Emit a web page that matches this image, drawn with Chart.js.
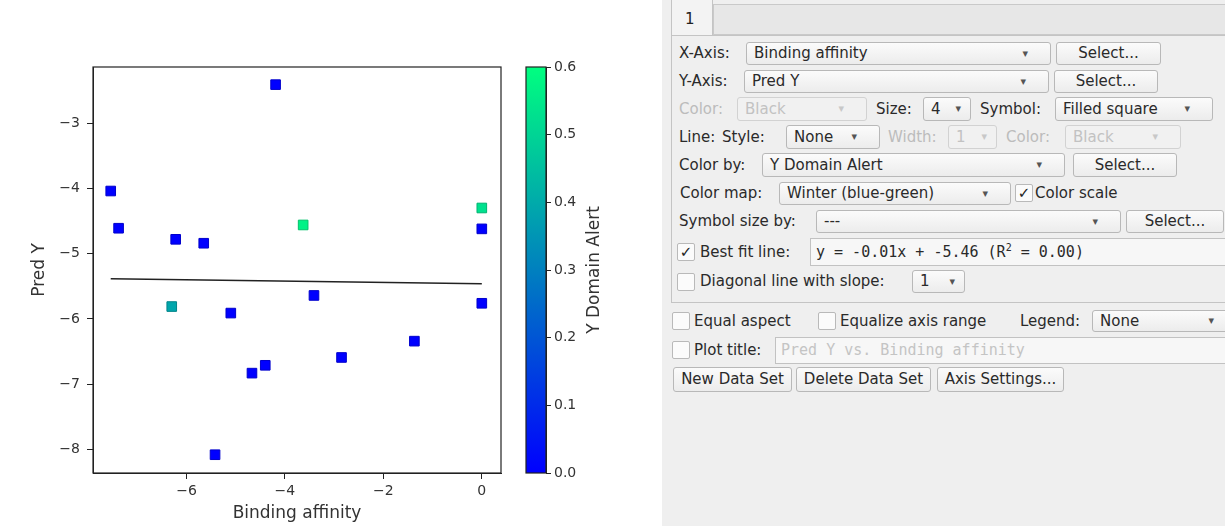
<!DOCTYPE html>
<html lang="en">
<head>
    <meta charset="UTF-8">
    <title>Pred Y vs. Binding affinity</title>
    <script src="https://cdn.jsdelivr.net/npm/chart.js"></script>
    <style>
        body {
            margin: 0;
            width: 1225px;
            height: 526px;
            position: relative;
            overflow: hidden;
            background: #fff;
            font-family: "DejaVu Sans", sans-serif;
        }
        #plot { position: absolute; left: 0; top: 0; }
        #cbar { position: absolute; left: 515px; top: 0; }

        .panel { position: absolute; left: 662px; top: 0; width: 563px; height: 526px; background: #efefef; }
        .tabbar { position: absolute; left: 713px; top: 4px; width: 520px; height: 31px; background: #e7e7e7; border: 1px solid #c9c9c9; box-sizing: border-box; }
        .tab { position: absolute; left: 671px; top: -2px; width: 42px; height: 38px; background: #f3f3f3; border: 1px solid #c4c4c4; border-bottom: none; box-sizing: border-box; font-size: 15px; line-height: 40px; padding-left: 13px; color: #222; }
        .page { position: absolute; left: 671px; top: 35px; width: 570px; height: 268px; border: 1px solid #c4c4c4; box-sizing: border-box; }

        .lbl, .combo, .btn, .chk, .field { position: absolute; box-sizing: border-box; white-space: nowrap; }
        .lbl { font-size: 15px; color: #2a2a2a; }
        .off { color: #bcbcbc !important; }
        .combo, .btn {
            border: 1px solid #b8b8b8;
            border-radius: 3px;
            background: linear-gradient(#fbfbfb, #ececec);
            font-size: 15px;
            color: #2a2a2a;
            padding-left: 7px;
        }
        .combo::after {
            content: "\25BE";
            position: absolute;
            right: 22px;
            top: 0;
            font-size: 11px;
            color: #555;
        }
        .combo.narrow::after { right: 9px; }
        .combo.dis { border-color: #d2d2d2; background: #f1f1f1; color: #c2c2c2; }
        .combo.dis::after { color: #c8c8c8; }
        .btn { text-align: center; padding-left: 0; }
        .chk { width: 18px; height: 18px; border: 1px solid #b9b9b9; border-radius: 2px; background: #fbfbfb; font-size: 15px; line-height: 16px; text-align: center; color: #222; }
        .field { border: 1px solid #c2c2c2; background: #f7f7f7; font-family: "DejaVu Sans Mono", monospace; font-size: 15px; color: #2a2a2a; padding-left: 5px; }
        .field sup { font-size: 10px; line-height: 0; }
    </style>
</head>
<body>
    <canvas id="plot" width="515" height="526"></canvas>
    <canvas id="cbar" width="145" height="526"></canvas>

    <div class="panel"></div>
    <div class="tabbar"></div>
    <div class="tab">1</div>
    <div class="page"></div>

    <!-- axis selection -->
    <div class="lbl" style="left:679px;top:42px;line-height:23px">X-Axis:</div>
    <div class="combo" style="left:746px;top:42px;width:305px;height:23px;line-height:21px">Binding affinity</div>
    <div class="btn" style="left:1056px;top:42px;width:105px;height:23px;line-height:21px">Select...</div>

    <div class="lbl" style="left:679px;top:70px;line-height:23px">Y-Axis:</div>
    <div class="combo" style="left:744px;top:70px;width:305px;height:23px;line-height:21px">Pred Y</div>
    <div class="btn" style="left:1054px;top:70px;width:104px;height:23px;line-height:21px">Select...</div>

    <!-- marker -->
    <div class="lbl off" style="left:679px;top:97px;line-height:24px">Color:</div>
    <div class="combo dis" style="left:737px;top:97px;width:130px;height:24px;line-height:22px">Black</div>
    <div class="lbl" style="left:876px;top:97px;line-height:24px">Size:</div>
    <div class="combo narrow" style="left:923px;top:97px;width:48px;height:24px;line-height:22px">4</div>
    <div class="lbl" style="left:980px;top:97px;line-height:24px">Symbol:</div>
    <div class="combo" style="left:1055px;top:97px;width:158px;height:24px;line-height:22px">Filled square</div>

    <!-- line -->
    <div class="lbl" style="left:679px;top:125px;line-height:24px">Line:</div>
    <div class="lbl" style="left:722px;top:125px;line-height:24px">Style:</div>
    <div class="combo" style="left:786px;top:125px;width:94px;height:24px;line-height:22px">None</div>
    <div class="lbl off" style="left:888px;top:125px;line-height:24px">Width:</div>
    <div class="combo dis narrow" style="left:948px;top:125px;width:49px;height:24px;line-height:22px">1</div>
    <div class="lbl off" style="left:1006px;top:125px;line-height:24px">Color:</div>
    <div class="combo dis" style="left:1065px;top:125px;width:116px;height:24px;line-height:22px">Black</div>

    <!-- colour mapping -->
    <div class="lbl" style="left:679px;top:153px;line-height:24px">Color by:</div>
    <div class="combo" style="left:762px;top:153px;width:303px;height:24px;line-height:22px">Y Domain Alert</div>
    <div class="btn" style="left:1073px;top:153px;width:104px;height:24px;line-height:22px">Select...</div>

    <div class="lbl" style="left:680px;top:182px;line-height:23px">Color map:</div>
    <div class="combo" style="left:779px;top:182px;width:232px;height:23px;line-height:21px">Winter (blue-green)</div>
    <div class="chk" style="left:1015px;top:184px">&#10003;</div>
    <div class="lbl" style="left:1035px;top:182px;line-height:23px">Color scale</div>

    <div class="lbl" style="left:679px;top:210px;line-height:23px">Symbol size by:</div>
    <div class="combo" style="left:816px;top:210px;width:305px;height:23px;line-height:21px">---</div>
    <div class="btn" style="left:1126px;top:210px;width:98px;height:23px;line-height:21px">Select...</div>

    <!-- reference lines -->
    <div class="chk" style="left:677px;top:243px">&#10003;</div>
    <div class="lbl" style="left:700px;top:238px;line-height:28px">Best fit line:</div>
    <div class="field" style="left:810px;top:238px;width:420px;height:28px;line-height:26px">y = -0.01x + -5.46 (R<sup>2</sup> = 0.00)</div>

    <div class="chk" style="left:677px;top:273px"></div>
    <div class="lbl" style="left:700px;top:270px;line-height:23px">Diagonal line with slope:</div>
    <div class="combo narrow" style="left:912px;top:270px;width:53px;height:23px;line-height:21px">1</div>

    <!-- plot options -->
    <div class="chk" style="left:672px;top:312px"></div>
    <div class="lbl" style="left:694px;top:310px;line-height:22px">Equal aspect</div>
    <div class="chk" style="left:818px;top:312px"></div>
    <div class="lbl" style="left:840px;top:310px;line-height:22px">Equalize axis range</div>
    <div class="lbl" style="left:1020px;top:310px;line-height:22px">Legend:</div>
    <div class="combo" style="left:1092px;top:310px;width:145px;height:22px;line-height:20px">None</div>

    <div class="chk" style="left:672px;top:341px"></div>
    <div class="lbl" style="left:694px;top:337px;line-height:27px">Plot title:</div>
    <div class="field" style="left:775px;top:337px;width:460px;height:27px;line-height:25px;color:#c4c4c4">Pred Y vs. Binding affinity</div>

    <div class="btn" style="left:673px;top:367px;width:119px;height:25px;line-height:23px">New Data Set</div>
    <div class="btn" style="left:796px;top:367px;width:135px;height:25px;line-height:23px">Delete Data Set</div>
    <div class="btn" style="left:937px;top:367px;width:127px;height:25px;line-height:23px">Axis Settings...</div>

    <script>
        // Data set 1
        const bindingAffinity = [-4.19, -7.54, -7.38, -6.22, -5.65, -3.63, 0.0, 0.0, -6.30, -5.10, -4.67, -4.40, -5.42, -3.41, -2.85, -1.37, 0.0];
        const predY = [-2.41, -4.04, -4.61, -4.78, -4.84, -4.56, -4.30, -4.62, -5.81, -5.91, -6.83, -6.71, -8.08, -5.64, -6.59, -6.34, -5.76];
        const yDomainAlert = [0, 0, 0, 0, 0, 0.57, 0.53, 0, 0.39, 0, 0, 0, 0, 0, 0, 0, 0];

        // Best fit line as reported in the panel
        const fitSlope = -0.01;
        const fitIntercept = -5.46;

        const xTicks = [-6, -4, -2, 0];
        const yTicks = [-8, -7, -6, -5, -4, -3];
        const alertTicks = [0, 0.1, 0.2, 0.3, 0.4, 0.5, 0.6];
        const alertMax = 0.6;

        Chart.defaults.font.family = '"DejaVu Sans", sans-serif';
        Chart.defaults.color = '#333';

        // matplotlib "winter": blue -> spring green
        function winter(v, shade = 1) {
            const t = Math.min(Math.max(v / alertMax, 0), 1);
            const g = Math.round(255 * t * shade);
            const b = Math.round(255 * (1 - 0.5 * t) * shade);
            return `rgb(0,${g},${b})`;
        }

        const minus = v => String(v).replace('-', '\u2212');

        const frame = {
            id: 'frame',
            afterDraw(chart) {
                const { ctx, chartArea: a } = chart;
                ctx.save();
                ctx.strokeStyle = '#222';
                ctx.lineWidth = 1.2;
                ctx.strokeRect(a.left, a.top, a.right - a.left, a.bottom - a.top);
                ctx.restore();
            }
        };

        const fitX = [Math.min(...bindingAffinity), Math.max(...bindingAffinity)];

        new Chart(document.getElementById('plot'), {
            type: 'scatter',
            data: {
                datasets: [{
                    data: bindingAffinity.map((x, i) => ({ x: x, y: predY[i] })),
                    pointStyle: 'rect',
                    pointRadius: 6.8,
                    borderWidth: 1,
                    backgroundColor: yDomainAlert.map(v => winter(v)),
                    borderColor: yDomainAlert.map(v => winter(v, 0.8)),
                    order: 0
                }, {
                    type: 'line',
                    data: fitX.map(x => ({ x: x, y: fitSlope * x + fitIntercept })),
                    borderColor: '#222',
                    borderWidth: 1.5,
                    pointRadius: 0,
                    order: 1
                }]
            },
            options: {
                responsive: false,
                animation: false,
                layout: { padding: { top: 67, right: 14, left: 0, bottom: 0 } },
                plugins: { legend: { display: false }, tooltip: { enabled: false } },
                scales: {
                    x: {
                        type: 'linear',
                        min: -7.9,
                        max: 0.39,
                        afterBuildTicks: s => { s.ticks = xTicks.map(v => ({ value: v })); },
                        afterFit: s => { s.height = 53; },
                        grid: { drawOnChartArea: false, tickLength: 6, color: '#222' },
                        border: { color: '#222', width: 1 },
                        ticks: { font: { size: 14 }, padding: 4, callback: minus },
                        title: { display: true, text: 'Binding affinity', font: { size: 17 }, color: '#333', padding: { top: 0, bottom: 2 } }
                    },
                    y: {
                        type: 'linear',
                        min: -8.36,
                        max: -2.14,
                        afterBuildTicks: s => { s.ticks = yTicks.map(v => ({ value: v })); },
                        afterFit: s => { s.width = 93; },
                        grid: { drawOnChartArea: false, tickLength: 6, color: '#222' },
                        border: { color: '#222', width: 1 },
                        ticks: { font: { size: 14 }, padding: 7, callback: minus },
                        title: { display: true, text: 'Pred Y', font: { size: 17 }, color: '#333', padding: { top: 29, bottom: 0 } }
                    }
                }
            },
            plugins: [frame]
        });

        // colour scale for "Y Domain Alert"
        const colorBar = {
            id: 'colorBar',
            afterDraw(chart) {
                const { ctx, chartArea: a } = chart;
                const grad = ctx.createLinearGradient(0, a.bottom, 0, a.top);
                for (let i = 0; i <= 10; i++) grad.addColorStop(i / 10, winter(alertMax * i / 10));
                ctx.save();
                ctx.fillStyle = grad;
                ctx.fillRect(a.left, a.top, a.right - a.left, a.bottom - a.top);
                ctx.strokeStyle = '#222';
                ctx.lineWidth = 1.2;
                ctx.strokeRect(a.left, a.top, a.right - a.left, a.bottom - a.top);

                ctx.translate(80, (a.top + a.bottom) / 2);
                ctx.rotate(-Math.PI / 2);
                ctx.font = '17px "DejaVu Sans"';
                ctx.fillStyle = '#333';
                ctx.textAlign = 'center';
                ctx.textBaseline = 'middle';
                ctx.fillText('Y Domain Alert', 0, 0);
                ctx.restore();
            }
        };

        new Chart(document.getElementById('cbar'), {
            type: 'scatter',
            data: { datasets: [] },
            options: {
                responsive: false,
                animation: false,
                layout: { padding: { top: 67, right: 0, left: 11, bottom: 53 } },
                plugins: { legend: { display: false }, tooltip: { enabled: false } },
                scales: {
                    x: { display: false },
                    y: {
                        type: 'linear',
                        position: 'right',
                        min: 0,
                        max: alertMax,
                        afterBuildTicks: s => { s.ticks = alertTicks.map(v => ({ value: v })); },
                        afterFit: s => { s.width = 114; },
                        grid: { drawOnChartArea: false, tickLength: 5, color: '#222' },
                        border: { color: '#222', width: 1 },
                        ticks: { font: { size: 14 }, padding: 3, callback: v => v.toFixed(1) }
                    }
                }
            },
            plugins: [colorBar]
        });
    </script>
</body>
</html>
